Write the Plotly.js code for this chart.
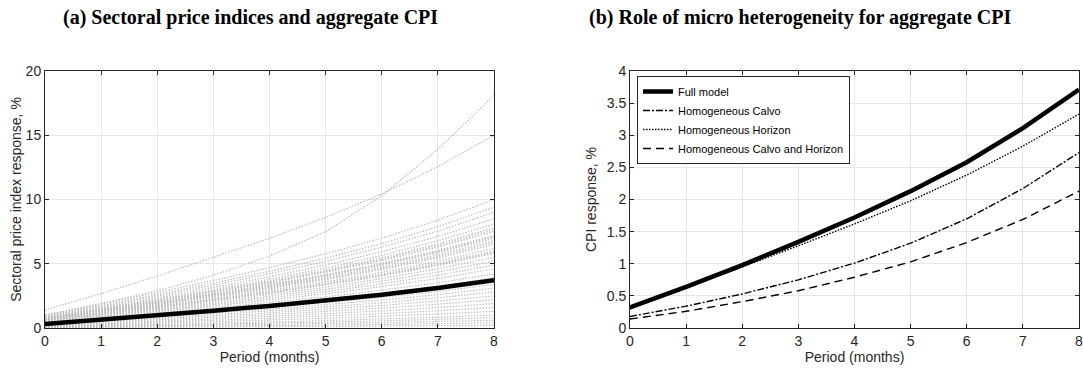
<!DOCTYPE html>
<html>
<head>
<meta charset="utf-8">
<script src="https://cdn.plot.ly/plotly-3.0.1.min.js"></script>
<style>html,body{margin:0;padding:0;background:#fff;}#chart{width:1083px;height:373px;}</style>
</head>
<body>
<div id="chart"></div>
<script>
// Periods (months)
const periods = [0, 1, 2, 3, 4, 5, 6, 7, 8];

// Panel (a): sectoral price index responses, %
const sectorSeries = [
  [1.0, 1.9, 2.9, 4.1, 5.6, 7.5, 10.3, 13.9, 18.1],
  [1.4, 2.68, 4.04, 5.48, 6.98, 8.61, 10.44, 12.55, 15.0],
  [1.0, 1.85, 2.75, 3.7, 4.69, 5.77, 6.99, 8.38, 10.0],
  [0.95, 1.74, 2.59, 3.49, 4.41, 5.43, 6.57, 7.88, 9.4],
  [0.9, 1.66, 2.47, 3.33, 4.22, 5.19, 6.29, 7.54, 9.0],
  [0.85, 1.57, 2.33, 3.15, 3.99, 4.90, 5.94, 7.12, 8.5],
  [0.8, 1.49, 2.22, 2.99, 3.79, 4.67, 5.65, 6.79, 8.1],
  [0.78, 1.44, 2.14, 2.89, 3.66, 4.5, 5.45, 6.54, 7.8],
  [0.76, 1.41, 2.1, 2.83, 3.58, 4.41, 5.34, 6.41, 7.65],
  [0.75, 1.38, 2.06, 2.78, 3.52, 4.33, 5.24, 6.29, 7.5],
  [0.72, 1.33, 1.98, 2.66, 3.38, 4.15, 5.03, 6.03, 7.2],
  [0.71, 1.31, 1.95, 2.63, 3.33, 4.1, 4.96, 5.95, 7.1],
  [0.7, 1.29, 1.92, 2.59, 3.28, 4.04, 4.89, 5.87, 7.0],
  [0.68, 1.26, 1.87, 2.52, 3.19, 3.92, 4.75, 5.7, 6.8],
  [0.66, 1.22, 1.82, 2.46, 3.12, 3.83, 4.64, 5.57, 6.65],
  [0.65, 1.2, 1.78, 2.41, 3.05, 3.75, 4.54, 5.45, 6.5],
  [0.62, 1.14, 1.70, 2.29, 2.91, 3.58, 4.33, 5.2, 6.2],
  [0.6, 1.11, 1.65, 2.22, 2.81, 3.46, 4.19, 5.03, 6.0],
  [0.59, 1.09, 1.62, 2.18, 2.77, 3.40, 4.12, 4.94, 5.9],
  [0.58, 1.07, 1.59, 2.15, 2.72, 3.35, 4.05, 4.86, 5.8],
  [0.55, 1.02, 1.51, 2.04, 2.58, 3.17, 3.84, 4.61, 5.5],
  [0.52, 0.96, 1.43, 1.92, 2.44, 3.0, 3.63, 4.36, 5.2],
  [0.5, 0.91, 1.35, 1.82, 2.3, 2.83, 3.43, 4.11, 4.9],
  [0.47, 0.86, 1.27, 1.71, 2.16, 2.66, 3.22, 3.86, 4.6],
  [0.44, 0.79, 1.17, 1.57, 1.98, 2.43, 2.94, 3.52, 4.2],
  [0.4, 0.73, 1.08, 1.45, 1.84, 2.26, 2.73, 3.27, 3.9],
  [0.36, 0.65, 0.95, 1.27, 1.61, 1.97, 2.38, 2.85, 3.4],
  [0.33, 0.59, 0.87, 1.16, 1.47, 1.8, 2.17, 2.6, 3.1],
  [0.3, 0.54, 0.79, 1.05, 1.33, 1.63, 1.96, 2.35, 2.8],
  [0.27, 0.48, 0.7, 0.94, 1.18, 1.45, 1.75, 2.1, 2.5],
  [0.24, 0.42, 0.62, 0.83, 1.04, 1.28, 1.54, 1.85, 2.2],
  [0.2, 0.36, 0.53, 0.71, 0.9, 1.1, 1.33, 1.59, 1.9],
  [0.17, 0.3, 0.45, 0.6, 0.76, 0.93, 1.12, 1.34, 1.6],
  [0.14, 0.25, 0.37, 0.49, 0.62, 0.75, 0.91, 1.09, 1.3],
  [0.1, 0.18, 0.27, 0.37, 0.47, 0.58, 0.7, 0.84, 1.0],
  [0.08, 0.15, 0.22, 0.30, 0.38, 0.46, 0.56, 0.67, 0.8],
  [0.06, 0.11, 0.16, 0.22, 0.28, 0.35, 0.42, 0.50, 0.6],
  [0.04, 0.07, 0.11, 0.15, 0.19, 0.23, 0.28, 0.34, 0.4],
  [0.02, 0.04, 0.06, 0.08, 0.09, 0.12, 0.14, 0.17, 0.2]
];

// Aggregate CPI / model variants, %
const fullModel = [0.32, 0.64, 0.98, 1.34, 1.72, 2.13, 2.58, 3.11, 3.71];
const homCalvo = [0.18, 0.34, 0.53, 0.75, 1.01, 1.32, 1.70, 2.17, 2.73];
const homHorizon = [0.30, 0.62, 0.95, 1.28, 1.62, 1.98, 2.38, 2.83, 3.33];
const homCalvoHorizon = [0.14, 0.26, 0.41, 0.58, 0.79, 1.03, 1.33, 1.69, 2.13];

const seriesNames = ["Full model", "Homogeneous Calvo", "Homogeneous Horizon", "Homogeneous Calvo and Horizon"];

const titleA = "(a) Sectoral price indices and aggregate CPI";
const titleB = "(b) Role of micro heterogeneity for aggregate CPI";

const W = 1083, H = 373;
const px = v => v / W;
const py = v => (H - v) / H;

const traces = [];
sectorSeries.forEach(s => {
  traces.push({x: periods, y: s, xaxis: 'x', yaxis: 'y', mode: 'lines', showlegend: false,
    hoverinfo: 'skip', line: {color: '#bdbdbd', width: 1.2, dash: '1.5px,1.5px'}});
});
traces.push({x: periods, y: fullModel, xaxis: 'x', yaxis: 'y', mode: 'lines', showlegend: false,
  line: {color: '#000', width: 4.5}});

traces.push({x: periods, y: fullModel, xaxis: 'x2', yaxis: 'y2', mode: 'lines', name: seriesNames[0],
  line: {color: '#000', width: 4.5}});
traces.push({x: periods, y: homCalvo, xaxis: 'x2', yaxis: 'y2', mode: 'lines', name: seriesNames[1],
  line: {color: '#000', width: 1.4, dash: '7px,2px,2px,2px'}});
traces.push({x: periods, y: homHorizon, xaxis: 'x2', yaxis: 'y2', mode: 'lines', name: seriesNames[2],
  line: {color: '#000', width: 1.4, dash: '1.5px,1.5px'}});
traces.push({x: periods, y: homCalvoHorizon, xaxis: 'x2', yaxis: 'y2', mode: 'lines', name: seriesNames[3],
  line: {color: '#000', width: 1.4, dash: '8px,5px'}});

const tickFont = {family: 'Liberation Sans, Arial, sans-serif', size: 14, color: '#262626'};
const axBase = {
  showline: true, linecolor: '#262626', linewidth: 1, mirror: 'ticks',
  ticks: 'inside', ticklen: 4, tickcolor: '#262626', tickwidth: 1,
  showgrid: true, gridcolor: '#e6e6e6', gridwidth: 1, zeroline: false,
  tickfont: tickFont, ticklabeloverflow: 'allow'
};

const layout = {
  width: W, height: H,
  margin: {l: 0, r: 0, t: 0, b: 0},
  paper_bgcolor: '#fff', plot_bgcolor: '#fff',
  showlegend: true,
  xaxis: Object.assign({}, axBase, {domain: [px(45), px(494)], range: [0, 8], tickvals: periods, anchor: 'y',
    title: {text: 'Period (months)', font: tickFont, standoff: 4}}),
  yaxis: Object.assign({}, axBase, {domain: [py(328), py(71)], range: [0, 20], tickvals: [0, 5, 10, 15, 20], anchor: 'x',
    title: {text: 'Sectoral price index response, %', font: tickFont, standoff: 0}}),
  xaxis2: Object.assign({}, axBase, {domain: [px(630), px(1079)], range: [0, 8], tickvals: periods, anchor: 'y2',
    title: {text: 'Period (months)', font: tickFont, standoff: 4}}),
  yaxis2: Object.assign({}, axBase, {domain: [py(328), py(71)], range: [0, 4], tickvals: [0, 0.5, 1, 1.5, 2, 2.5, 3, 3.5, 4],
    ticktext: ['0', '0.5', '1', '1.5', '2', '2.5', '3', '3.5', '4'], anchor: 'x2',
    title: {text: 'CPI response, %', font: tickFont, standoff: 6}}),
  legend: {
    x: px(637), y: py(76), xanchor: 'left', yanchor: 'top',
    bgcolor: '#fff', bordercolor: '#262626', borderwidth: 1,
    font: {family: 'Liberation Sans, Arial, sans-serif', size: 11, color: '#000'},
    tracegroupgap: 0, itemwidth: 30
  },
  annotations: [
    {text: '<b>' + titleA + '</b>', xref: 'paper', yref: 'paper', x: px(250), y: py(17), xanchor: 'center', yanchor: 'middle',
      showarrow: false, font: {family: 'Liberation Serif, Times New Roman, serif', size: 20, color: '#000'}},
    {text: '<b>' + titleB + '</b>', xref: 'paper', yref: 'paper', x: px(800), y: py(17), xanchor: 'center', yanchor: 'middle',
      showarrow: false, font: {family: 'Liberation Serif, Times New Roman, serif', size: 20, color: '#000'}}
  ]
};

Plotly.newPlot('chart', traces, layout, {displayModeBar: false, staticPlot: true});
</script>
</body>
</html>
